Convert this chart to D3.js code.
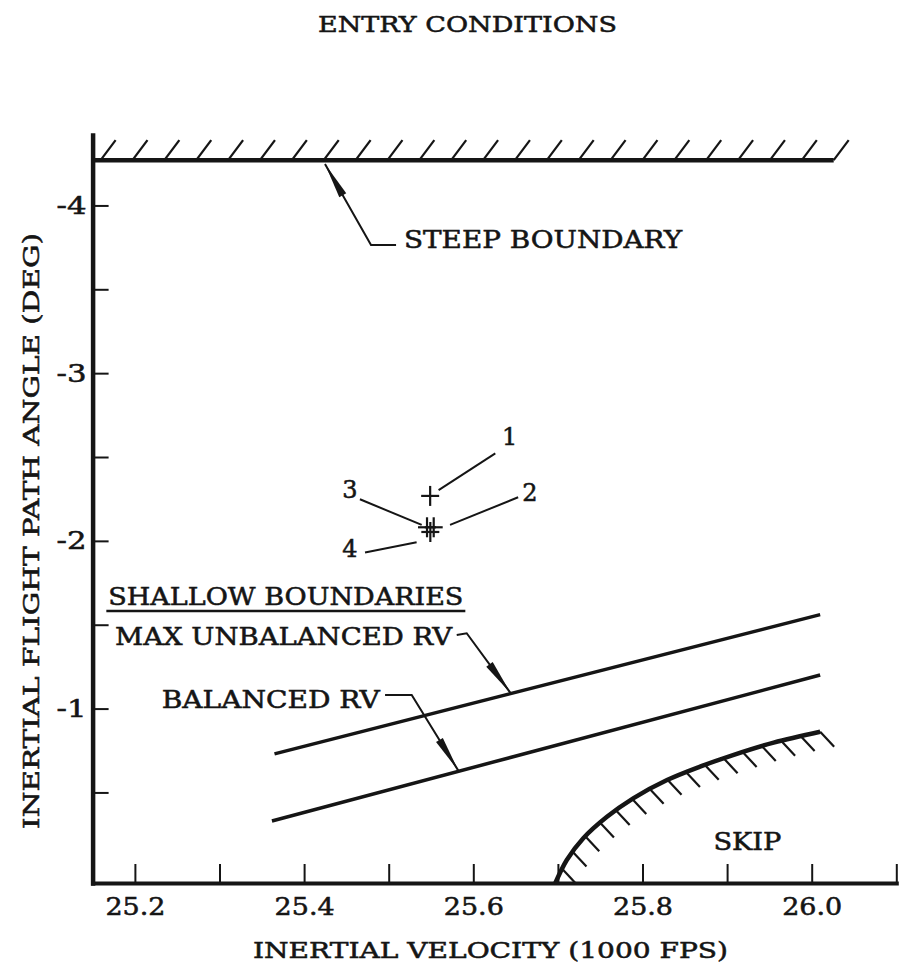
<!DOCTYPE html>
<html><head><meta charset="utf-8">
<script src="https://cdn.jsdelivr.net/npm/d3@7"></script>
<style>
html,body{margin:0;padding:0;background:#fff;}
svg{display:block;background:#fff;}
text{font-family:"DejaVu Serif","Liberation Serif",serif;fill:#151515;stroke:#151515;stroke-width:0.55px;}
</style></head><body>
<svg id="chart" width="901" height="974"></svg>
<script>
// ---------- data ----------
const xDomain = [25.15, 26.1];
const yDomain = [0.04, -4.42];
const xTickValues = [25.2, 25.3, 25.4, 25.5, 25.6, 25.7, 25.8, 25.9, 26.0, 26.1];
const xTickLabels = [25.2, 25.4, 25.6, 25.8, 26.0];
const yTickValues = [-4, -3.5, -3, -2.5, -2, -1.5, -1, -0.5];
const yTickLabels = [-4, -3, -2, -1];

const steepBoundary = [[25.15, -4.27], [26.026, -4.27]];
const maxUnbalancedRV = [[25.365, -0.73], [26.01, -1.56]];
const balancedRV = [[25.362, -0.33], [26.01, -1.20]];
const skipBoundary = [[25.697, 0.04], [25.7105, -0.097], [25.730, -0.227], [25.758, -0.355],
  [25.789, -0.465], [25.829, -0.574], [25.868, -0.654], [25.907, -0.723], [25.955, -0.797], [26.010, -0.862]];

const pointIds = ["1", "2", "3", "4"];
const pointVelocity = [25.549, 25.5532, 25.5453, 25.5492];
const pointAngle = [-2.268, -2.081, -2.081, -2.053];
const pointLabelPos = [[25.643, -2.572], [25.667, -2.238], [25.454, -2.256], [25.454, -1.904]];
const pointLeaders = [
  [[25.626, -2.522], [25.559, -2.303]],
  [[25.653, -2.260], [25.5725, -2.095]],
  [[25.466, -2.248], [25.539, -2.095]],
  [[25.472, -1.930], [25.533, -1.992]]
];

const steepArrow = [[25.5087, -3.7645], [25.4791, -3.7645], [25.4247, -4.2474]];
const maxArrow = [[25.5804, -1.439], [25.5922, -1.449], [25.6443, -1.091]];
const balArrow = [[25.4957, -1.081], [25.5272, -1.081], [25.5823, -0.630]];

const annotationTexts = ["STEEP BOUNDARY", "SHALLOW BOUNDARIES", "MAX UNBALANCED RV", "BALANCED RV", "SKIP"];
const annotationPos = [[25.5181, -3.7466], [25.1686, -1.6178], [25.1765, -1.3803], [25.2317, -1.0018], [25.8838, -0.1568]];

const titleText = "ENTRY CONDITIONS";
const xTitle = "INERTIAL VELOCITY (1000 FPS)";
const yTitle = "INERTIAL FLIGHT PATH ANGLE (DEG)";

// ---------- styles / layout ----------
const ink = "#151515";
const annotationWidths = {"STEEP BOUNDARY": 278, "SHALLOW BOUNDARIES": 355, "MAX UNBALANCED RV": 337, "BALANCED RV": 218, "SKIP": 68};

const svg = d3.select("#chart");
const x = d3.scaleLinear().domain(xDomain).range([92.6, 896.3]);
const y = d3.scaleLinear().domain(yDomain).range([883, 135]);

// title
svg.append("text").attr("x", 318).attr("y", 32).attr("font-size", 23)
  .attr("textLength", 299).attr("lengthAdjust", "spacingAndGlyphs").text(titleText);

// x axis
const xAxis = d3.axisBottom(x).tickValues(xTickValues).tickSize(-19).tickSizeOuter(0).tickPadding(15)
  .tickFormat(d => xTickLabels.includes(d) ? d.toFixed(1) : "");
const gx = svg.append("g").attr("transform", `translate(0,${y(yDomain[0])})`).call(xAxis);
gx.select(".domain").attr("stroke", ink).attr("stroke-width", 4).attr("stroke-linecap", "square");
gx.selectAll(".tick line").attr("stroke", ink).attr("stroke-width", 2);
gx.selectAll(".tick text").attr("font-size", 24).attr("font-family", "DejaVu Serif").attr("fill", ink)
  .each(function(d){ if (xTickLabels.includes(d)) d3.select(this).attr("textLength", 60).attr("lengthAdjust", "spacingAndGlyphs"); });

// y axis
const yAxis = d3.axisLeft(y).tickValues(yTickValues).tickSize(-16).tickSizeOuter(0).tickPadding(6)
  .tickFormat(d => yTickLabels.includes(d) ? String(d) : "");
const gy = svg.append("g").attr("transform", `translate(${x(xDomain[0])},0)`).call(yAxis);
gy.select(".domain").attr("stroke", ink).attr("stroke-width", 4.5).attr("stroke-linecap", "square");
gy.selectAll(".tick line").attr("stroke", ink).attr("stroke-width", 2);
gy.selectAll(".tick text").attr("font-size", 25).attr("font-family", "DejaVu Serif").attr("fill", ink)
  .each(function(d){ if (yTickLabels.includes(d)) d3.select(this).attr("textLength", 30).attr("lengthAdjust", "spacingAndGlyphs"); });

// axis titles
svg.append("text").attr("x", 253).attr("y", 958).attr("font-size", 23)
  .attr("textLength", 475).attr("lengthAdjust", "spacingAndGlyphs").text(xTitle);
svg.append("text").attr("transform", "translate(39,531) rotate(-90)").attr("text-anchor", "middle")
  .attr("font-size", 23).attr("textLength", 596).attr("lengthAdjust", "spacingAndGlyphs").text(yTitle);

const line = d3.line().x(d => x(d[0])).y(d => y(d[1]));

// steep boundary + hatching
svg.append("path").attr("d", line(steepBoundary)).attr("fill", "none").attr("stroke", ink).attr("stroke-width", 4.5);
{
  const sx0 = x(steepBoundary[0][0]) + 8, sx1 = x(steepBoundary[1][0]), sy = y(steepBoundary[0][1]);
  const n = 24;
  const hatch = d3.range(n).map(i => sx0 + (sx1 - sx0) * i / (n - 1));
  svg.append("g").selectAll("line").data(hatch).join("line")
    .attr("x1", d => d).attr("y1", sy).attr("x2", d => d + 15).attr("y2", sy - 20)
    .attr("stroke", ink).attr("stroke-width", 2.2);
}

// shallow boundaries
[maxUnbalancedRV, balancedRV].forEach(l => {
  svg.append("path").attr("d", line(l)).attr("fill", "none").attr("stroke", ink).attr("stroke-width", 3.5);
});

// skip boundary
const skipPath = svg.append("path").attr("d", line.curve(d3.curveCatmullRom.alpha(0.5))(skipBoundary))
  .attr("fill", "none").attr("stroke", ink).attr("stroke-width", 4.5);
line.curve(d3.curveLinear);
{
  const node = skipPath.node();
  const L = node.getTotalLength();
  const n = 16;
  const pts = d3.range(n).map(i => node.getPointAtLength(L * (0.05 + 0.95 * i / (n - 1))));
  svg.append("g").selectAll("line").data(pts).join("line")
    .attr("x1", d => d.x).attr("y1", d => d.y).attr("x2", d => d.x + 14).attr("y2", d => d.y + 15)
    .attr("stroke", ink).attr("stroke-width", 2.2);
}

// annotation arrows
function arrow(pts) {
  svg.append("path").attr("d", line(pts)).attr("fill", "none").attr("stroke", ink).attr("stroke-width", 2);
  const a = pts[pts.length - 2], b = pts[pts.length - 1];
  const ax = x(a[0]), ay = y(a[1]), bx = x(b[0]), by = y(b[1]);
  const len = Math.hypot(bx - ax, by - ay), ux = (bx - ax) / len, uy = (by - ay) / len;
  const hl = 36, hw = 4;
  const cx = bx - ux * hl, cy = by - uy * hl;
  svg.append("path").attr("d", `M${bx},${by}L${cx - uy * hw},${cy + ux * hw}L${cx + uy * hw},${cy - ux * hw}Z`)
    .attr("fill", ink);
}
[steepArrow, maxArrow, balArrow].forEach(arrow);

// annotation texts
annotationTexts.forEach((t, i) => {
  svg.append("text").attr("x", x(annotationPos[i][0])).attr("y", y(annotationPos[i][1]))
    .attr("font-size", 24).attr("textLength", annotationWidths[t]).attr("lengthAdjust", "spacingAndGlyphs").text(t);
});
// underline for SHALLOW BOUNDARIES
{
  const sx = x(annotationPos[1][0]), sy = y(annotationPos[1][1]);
  svg.append("line").attr("x1", sx - 2).attr("x2", sx + annotationWidths["SHALLOW BOUNDARIES"] + 2)
    .attr("y1", sy + 6).attr("y2", sy + 6).attr("stroke", ink).attr("stroke-width", 2.5);
}

// entry points (+ markers)
const pts = pointIds.map((id, i) => ({id, vx: pointVelocity[i], fy: pointAngle[i]}));
const gp = svg.append("g");
pts.forEach(p => {
  const px = x(p.vx), py = y(p.fy);
  gp.append("line").attr("x1", px - 9).attr("x2", px + 9).attr("y1", py).attr("y2", py).attr("stroke", ink).attr("stroke-width", 2.2);
  gp.append("line").attr("x1", px).attr("x2", px).attr("y1", py - 10).attr("y2", py + 10).attr("stroke", ink).attr("stroke-width", 2.2);
});
pointLeaders.forEach(l => {
  svg.append("path").attr("d", line(l)).attr("stroke", ink).attr("stroke-width", 2).attr("fill", "none");
});
pointIds.forEach((id, i) => {
  svg.append("text").attr("x", x(pointLabelPos[i][0])).attr("y", y(pointLabelPos[i][1]))
    .attr("text-anchor", "middle").attr("font-size", 24).text(id);
});
</script>
</body></html>
